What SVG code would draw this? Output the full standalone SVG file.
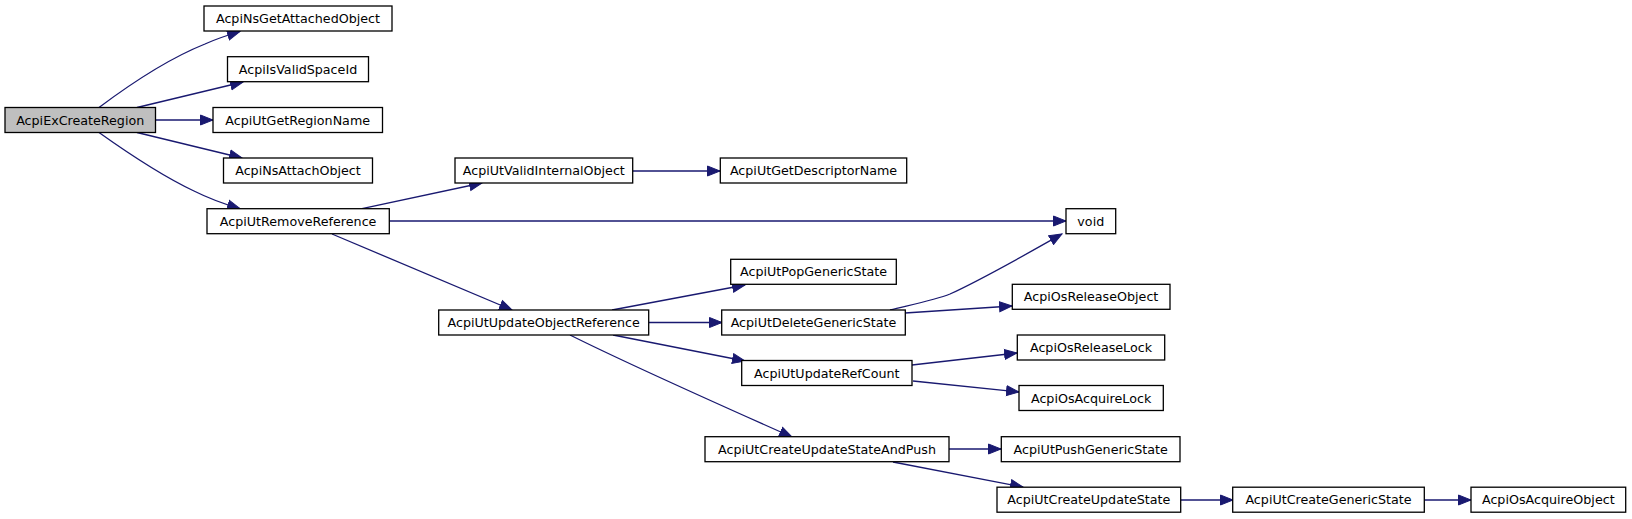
<svg xmlns="http://www.w3.org/2000/svg" width="1632" height="519" viewBox="0 0 1632 519">
<style>
.n rect{fill:#fff;stroke:#000;stroke-width:1.3}
.n.root rect{fill:#bfbfbf}
.n text{font-family:"DejaVu Sans",sans-serif;font-size:12.7px;text-anchor:middle;fill:#000}
.e path{fill:none;stroke:#191970;stroke-width:1.3;marker-end:url(#ah)}
</style>
<defs>
<marker id="ah" markerUnits="userSpaceOnUse" markerWidth="14" markerHeight="12" viewBox="0 0 14 12" refX="13" refY="6" orient="auto">
<path d="M0.5,1 L13,6 L0.5,11 z" fill="#191970" stroke="#191970" stroke-width="1"/>
</marker>
</defs>
<rect width="1632" height="519" fill="#fff"/>
<g id="edges" class="e">
<path d="M99,107.5 C125,88 165,60 205,44 C216,39 228,35 240,31.5"/>
<path d="M137,107.5 L243,82"/>
<path d="M155.5,120 L213,120"/>
<path d="M137,132.5 L242,158"/>
<path d="M99,132.5 C125,151 160,175 194,191 C208,198 224,204 240,208.7"/>
<path d="M362,208.7 L482,183"/>
<path d="M389,221 L1066,221"/>
<path d="M332,234 L512,310"/>
<path d="M612,310 L745,285"/>
<path d="M649,322.5 L722,322.5"/>
<path d="M613,335 L745,361"/>
<path d="M570,335 C630,365 720,405 792,437"/>
<path d="M890,310 C910,305 935,300 950,294 C985,278 1030,252 1062,234"/>
<path d="M905,313 L1012,306"/>
<path d="M912,365 L1017,353"/>
<path d="M913,381 L1019,392"/>
<path d="M949,449 L1001,449"/>
<path d="M893,462 L1023,487"/>
<path d="M1181,500 L1233,500"/>
<path d="M1424,500 L1471,500"/>
<path d="M633,171 L720,171"/>
</g>
<g id="AcpiExCreateRegion" class="n root"><rect x="5" y="107.5" width="150.5" height="25"/><text x="80.2" y="124.6">AcpiExCreateRegion</text></g>
<g id="AcpiNsGetAttachedObject" class="n"><rect x="204" y="6" width="188" height="25"/><text x="298" y="23.1">AcpiNsGetAttachedObject</text></g>
<g id="AcpiIsValidSpaceId" class="n"><rect x="227.5" y="56.7" width="141" height="25"/><text x="298" y="73.8">AcpiIsValidSpaceId</text></g>
<g id="AcpiUtGetRegionName" class="n"><rect x="213" y="107.5" width="169.5" height="25"/><text x="297.7" y="124.6">AcpiUtGetRegionName</text></g>
<g id="AcpiNsAttachObject" class="n"><rect x="223.5" y="158" width="149" height="25"/><text x="298" y="175.1">AcpiNsAttachObject</text></g>
<g id="AcpiUtRemoveReference" class="n"><rect x="207" y="208.7" width="182.3" height="25"/><text x="298.1" y="225.8">AcpiUtRemoveReference</text></g>
<g id="AcpiUtValidInternalObject" class="n"><rect x="455" y="158" width="177.7" height="25"/><text x="543.8" y="175.1">AcpiUtValidInternalObject</text></g>
<g id="AcpiUtGetDescriptorName" class="n"><rect x="720.3" y="158" width="186.4" height="25"/><text x="813.5" y="175.1">AcpiUtGetDescriptorName</text></g>
<g id="void" class="n"><rect x="1066" y="208.7" width="49.7" height="25"/><text x="1090.8" y="225.8">void</text></g>
<g id="AcpiUtUpdateObjectReference" class="n"><rect x="438.7" y="310" width="210" height="25"/><text x="543.7" y="327.1">AcpiUtUpdateObjectReference</text></g>
<g id="AcpiUtPopGenericState" class="n"><rect x="730.7" y="259.3" width="165.6" height="25"/><text x="813.5" y="276.4">AcpiUtPopGenericState</text></g>
<g id="AcpiUtDeleteGenericState" class="n"><rect x="721.7" y="310" width="183.6" height="25"/><text x="813.5" y="327.1">AcpiUtDeleteGenericState</text></g>
<g id="AcpiUtUpdateRefCount" class="n"><rect x="741.7" y="360.5" width="170.3" height="25"/><text x="826.8" y="377.6">AcpiUtUpdateRefCount</text></g>
<g id="AcpiUtCreateUpdateStateAndPush" class="n"><rect x="705" y="436.7" width="244" height="25"/><text x="827" y="453.8">AcpiUtCreateUpdateStateAndPush</text></g>
<g id="AcpiOsReleaseObject" class="n"><rect x="1012.3" y="284.3" width="157.7" height="25"/><text x="1091.1" y="301.4">AcpiOsReleaseObject</text></g>
<g id="AcpiOsReleaseLock" class="n"><rect x="1017.3" y="335" width="147.4" height="25"/><text x="1091" y="352.1">AcpiOsReleaseLock</text></g>
<g id="AcpiOsAcquireLock" class="n"><rect x="1019" y="385.5" width="144.3" height="25"/><text x="1091.1" y="402.6">AcpiOsAcquireLock</text></g>
<g id="AcpiUtPushGenericState" class="n"><rect x="1001.3" y="436.7" width="178.7" height="25"/><text x="1090.7" y="453.8">AcpiUtPushGenericState</text></g>
<g id="AcpiUtCreateUpdateState" class="n"><rect x="997" y="487.2" width="183.7" height="25"/><text x="1088.8" y="504.3">AcpiUtCreateUpdateState</text></g>
<g id="AcpiUtCreateGenericState" class="n"><rect x="1232.7" y="487.2" width="191.6" height="25"/><text x="1328.5" y="504.3">AcpiUtCreateGenericState</text></g>
<g id="AcpiOsAcquireObject" class="n"><rect x="1471" y="487.2" width="154.7" height="25"/><text x="1548.3" y="504.3">AcpiOsAcquireObject</text></g>
</svg>
